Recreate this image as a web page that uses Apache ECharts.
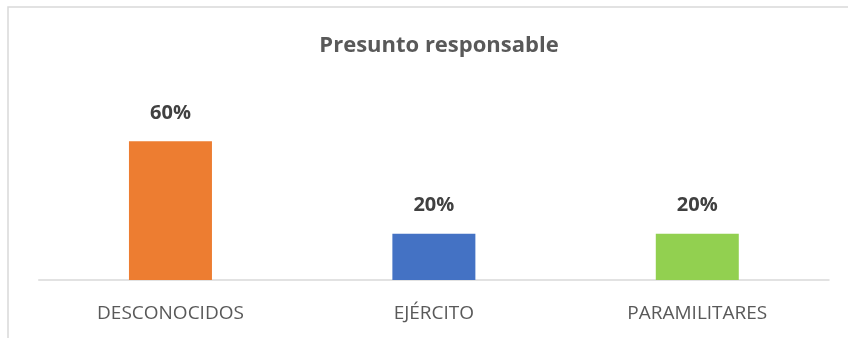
<!DOCTYPE html>
<html><head><meta charset="utf-8">
<script src="https://cdn.jsdelivr.net/npm/echarts@6/dist/echarts.min.js"></script>
<style>html,body{margin:0;padding:0;background:#fff}#c{width:848px;height:338px}</style>
</head><body><div id="c"></div>
<script>
const titleText = "Presunto responsable";
const categories = ["DESCONOCIDOS", "EJÉRCITO", "PARAMILITARES"];
const values = [0.60, 0.20, 0.20];
const barColors = ["#ED7D31", "#4472C4", "#92D050"];

const chart = echarts.init(document.getElementById('c'), null, {renderer: 'canvas'});
chart.setOption({
  animation: false,
  backgroundColor: '#fff',
  title: {
    text: titleText, top: 30, left: 434, textAlign: 'center',
    textStyle: {fontFamily: 'Open Sans', fontWeight: 'bold', fontSize: 22, color: '#595959'}
  },
  graphic: [{
    type: 'rect', shape: {x: 8, y: 7, width: 900, height: 400},
    style: {fill: 'none', stroke: '#d9d9d9', lineWidth: 1.5}, silent: true
  }],
  grid: {left: 38.75, right: 19, top: 118, bottom: 58},
  xAxis: {
    type: 'category', data: categories,
    axisLine: {lineStyle: {color: '#d9d9d9', width: 1.5}},
    axisTick: {show: false},
    axisLabel: {color: '#595959', fontFamily: 'Open Sans', fontSize: 19, margin: 24}
  },
  yAxis: {type: 'value', min: 0, max: 0.7, show: false, splitLine: {show: false}},
  series: [{
    type: 'bar', barWidth: 83,
    data: values.map((v, i) => ({value: v, itemStyle: {color: barColors[i]}})),
    label: {
      show: true, position: 'top', distance: 18,
      formatter: p => Math.round(p.value * 100) + '%',
      fontFamily: 'Open Sans', fontWeight: 'bold', fontSize: 20, color: '#404040'
    }
  }]
});
</script></body></html>
